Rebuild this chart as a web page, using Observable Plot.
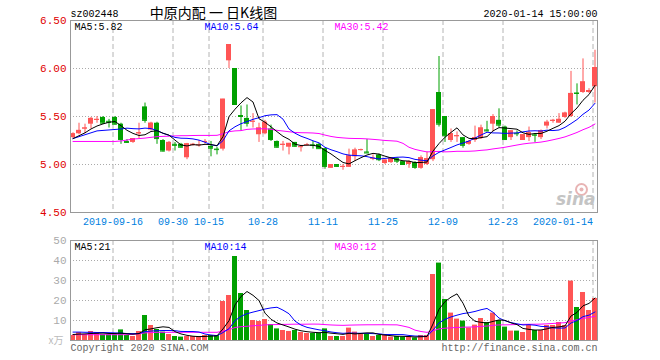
<!DOCTYPE html>
<html><head><meta charset="utf-8">
<script src="https://cdn.jsdelivr.net/npm/d3@7"></script>
<script src="https://cdn.jsdelivr.net/npm/@observablehq/plot@0.6"></script>
<style>
body{margin:0;background:#fff;}
#wrap{position:relative;width:660px;height:360px;overflow:hidden;background:#fff;}
#wrap svg{display:block;}
</style></head><body><div id="wrap"></div>
<script>
// ---- data ----
const stockCode = "sz002448";
const chartTitle = "中原内配 一 日K线图";
const stamp = "2020-01-14 15:00:00";
const opens = [5.28,5.32,5.37,5.42,5.46,5.49,5.45,5.49,5.42,5.24, 5.23,5.32,5.60,5.36,5.43,5.25,5.14,5.21,5.21,5.07, 5.20,5.20,5.23,5.19,5.16,5.16,6.08,6.00,5.51,5.48, 5.445,5.31,5.32,5.37,5.24,5.20,5.18,5.23,5.18,5.20, 5.205,5.21,5.165,4.96,5.00,4.975,4.97,5.08,5.15,5.13, 5.06,5.10,5.01,5.02,5.06,5.03,5.00,5.02,4.96,5.00, 5.05,5.75,5.50,5.25,5.29,5.28,5.21,5.25,5.27,5.36, 5.42,5.46,5.39,5.28,5.325,5.25,5.28,5.31,5.28,5.40, 5.45,5.43,5.49,5.50,5.745,5.75,5.75,5.81];
const highs = [5.33,5.43,5.42,5.49,5.50,5.50,5.47,5.50,5.43,5.26, 5.27,5.43,5.64,5.44,5.44,5.26,5.24,5.23,5.22,5.22, 5.22,5.25,5.26,5.24,5.18,5.68,6.25,6.00,5.61,5.62, 5.53,5.43,5.46,5.41,5.245,5.24,5.22,5.23,5.20,5.22, 5.24,5.22,5.17,5.00,5.00,5.00,5.16,5.17,5.16,5.26, 5.10,5.11,5.05,5.07,5.07,5.03,5.04,5.03,5.09,5.13, 5.57,6.125,5.50,5.37,5.34,5.28,5.25,5.40,5.41,5.45, 5.52,5.58,5.40,5.35,5.35,5.31,5.39,5.32,5.36,5.46, 5.47,5.53,5.545,5.97,5.84,6.10,5.79,6.19];
const lows = [5.27,5.31,5.32,5.37,5.43,5.42,5.38,5.41,5.21,5.22, 5.22,5.27,5.43,5.35,5.21,5.13,5.13,5.14,5.17,5.05, 5.19,5.18,5.21,5.08,5.10,5.14,6.00,5.62,5.35,5.39, 5.38,5.23,5.31,5.24,5.17,5.14,5.10,5.18,5.13,5.19, 5.16,5.16,4.95,4.96,4.97,4.94,4.97,5.03,5.14,5.12, 5.04,5.03,5.00,5.01,5.01,4.99,4.96,4.95,4.95,4.99, 5.03,5.39,5.23,5.23,5.23,5.17,5.20,5.23,5.26,5.34, 5.34,5.38,5.25,5.25,5.29,5.25,5.24,5.23,5.26,5.37, 5.43,5.43,5.48,5.49,5.62,5.74,5.74,5.64];
const closes = [5.32,5.355,5.38,5.48,5.47,5.43,5.44,5.42,5.26,5.23, 5.27,5.33,5.46,5.43,5.27,5.14,5.23,5.20,5.18,5.215, 5.21,5.205,5.24,5.17,5.155,5.68,6.25,5.625,5.50,5.43, 5.45,5.38,5.44,5.26,5.18,5.21,5.22,5.19,5.185,5.205, 5.20,5.165,4.98,5.00,4.98,4.98,5.09,5.15,5.155,5.12, 5.065,5.05,5.045,5.065,5.035,5.00,5.03,4.97,5.07,5.06, 5.57,5.42,5.30,5.32,5.30,5.20,5.24,5.28,5.38,5.35, 5.50,5.41,5.26,5.35,5.32,5.31,5.33,5.305,5.35,5.44, 5.46,5.47,5.535,5.74,5.74,5.86,5.77,6.01];
const volumes = [2.5,4,3,4.5,4,3,3,3,5.3,2.5, 2,4.5,12.5,7.5,5.5,4.2,3,2,1.7,2, 2,2,2.5,2.5,2.5,19.5,22.5,42,23.5,15, 10,9.5,10.5,8,5.8,5,4.5,5,4,3.5, 3.5,3.5,5.8,2,2,2,6.2,4.2,3.3,3.3, 2,2.5,2.5,1.7,2,1.7,2,1.3,2.5,2.5, 33,38.7,20.5,13.7,10.7,9.7,6.3,7.7,11,9, 13.7,10,6.7,4.7,4.7,4,7.7,5,5,7.5, 7.5,9,7.5,29.7,16.5,24,15,21];
// moving-average values at the left edge (window starts before the visible data)
const ma5Lead = [5.27,5.30,5.33,5.37];
const ma10Lead = [5.27,5.29,5.31,5.33,5.35,5.355,5.36,5.365,5.37];
const ma30Lead = [5.24,5.24,5.24,5.24,5.24,5.24,5.24,5.24,5.245,5.255, 5.265,5.27,5.275,5.283,5.29,5.293,5.295,5.298,5.30,5.30, 5.302,5.303,5.303,5.303,5.304,5.32,5.342,5.35,5.353];
const vma5Lead = [3.0,3.2,3.3,3.5];
const vma10Lead = [4.2,4.2,4.1,4.1,4.0,4.0,3.9,3.8,3.7];
const vma30Lead = [2.9,2.9,2.9,2.9,2.9,2.9,2.9,2.9,2.9,2.9, 3.1,3.4,3.8,4.0,4.1,4.1,4.1,4.1,4.1,4.1, 4.1,4.1,4.1,4.1,4.1,4.7,5.4,6.5,6.9];
const tickIndex = [7,17,23,32,42,52,62,72,87];
const tickLabels = ["2019-09-16","09-30","10-15","10-28","11-11","11-25","12-09","12-23","2020-01-14"];
const priceTicks = [4.5,5,5.5,6,6.5];
const priceGrid = [5,5.5,6];
const volTicks = [10,20,30,40,50];
const volGrid = [10,20,30,40];

// ---- build ----
const RED = "#ff5555", GREEN = "#00a000", MA5C = "#000000", MA10C = "#0000ff", MA30C = "#ff00ff";
const FONT = "'Liberation Mono','DejaVu Sans Mono',monospace";
const N = closes.length;
const half = 2.5/6, gridOff = 2/6;
function movingAvg(vals, n, lead) {
  return vals.map((_, i) => i < n - 1 ? lead[i] : d3.mean(vals.slice(i - n + 1, i + 1)));
}
const ma5 = movingAvg(closes, 5, ma5Lead), ma10 = movingAvg(closes, 10, ma10Lead), ma30 = movingAvg(closes, 30, ma30Lead);
const vma5 = movingAvg(volumes, 5, vma5Lead), vma10 = movingAvg(volumes, 10, vma10Lead), vma30 = movingAvg(volumes, 30, vma30Lead);
const rows = d3.range(N).map(i => ({
  i, o: opens[i], h: highs[i], l: lows[i], c: closes[i], v: volumes[i],
  col: closes[i] >= opens[i] ? RED : GREEN,
  m5: ma5[i], m10: ma10[i], m30: ma30[i], v5: vma5[i], v10: vma10[i], v30: vma30[i]
}));
const xScale = {domain: [-half, N - 1 + half], axis: null};
const vGridMarks = Plot.ruleX(tickIndex, {x: d => d - gridOff, stroke: "#b4b4b4", strokeDasharray: "5,3"});
const f2 = d3.format(".2f");

const price = Plot.plot({
  width: 660, height: 230, marginLeft: 70, marginRight: 63, marginTop: 20, marginBottom: 18,
  style: {fontFamily: FONT, fontSize: "10px", background: "#fff", overflow: "visible"},
  x: xScale,
  y: {domain: [4.5, 6.5], axis: null},
  marks: [
    Plot.ruleY(priceGrid, {stroke: "#aaa", strokeDasharray: "1,2"}),
    vGridMarks,
    Plot.dot([0], {frameAnchor: "bottom-right", dx: -16, dy: -23, r: 5.5, stroke: "#e8b4b4", strokeWidth: 2, fill: "none"}),
    Plot.dot([0], {frameAnchor: "bottom-right", dx: -16, dy: -23, r: 2, fill: "#e8b4b4"}),
    Plot.text(["sina"], {frameAnchor: "bottom-right", dx: -2, dy: -13, lineAnchor: "middle", textAnchor: "end", fill: "#c4c4c4", fontSize: 17, fontWeight: "bold", fontStyle: "italic", fontFamily: "'DejaVu Sans',sans-serif"}),
    Plot.ruleX(rows, {x: "i", y1: "l", y2: "h", stroke: "col"}),
    Plot.rect(rows, {x1: d => d.i - half, x2: d => d.i + half, y1: "o", y2: "c", fill: "col"}),
    Plot.ruleY(rows, {x1: d => d.i - half, x2: d => d.i + half, y: "c", stroke: "col"}),
    Plot.line(rows, {x: "i", y: "m30", stroke: MA30C, strokeWidth: 1}),
    Plot.line(rows, {x: "i", y: "m10", stroke: MA10C, strokeWidth: 1}),
    Plot.line(rows, {x: "i", y: "m5", stroke: MA5C, strokeWidth: 1}),
    Plot.frame({stroke: "#999"}),
    Plot.text(priceTicks, {y: d => d, frameAnchor: "left", dx: -4, textAnchor: "end", text: d => f2(d), fill: "#e00000", fontSize: 11}),
    Plot.text(tickIndex.slice(0, -1), {x: d => d - gridOff, frameAnchor: "bottom", dy: 9, lineAnchor: "middle", text: (d, k) => tickLabels[k], fill: "#0080e0"}),
    Plot.text(tickIndex.slice(-1), {x: d => d - gridOff, frameAnchor: "bottom", dy: 9, lineAnchor: "middle", textAnchor: "end", text: () => tickLabels[tickLabels.length - 1], fill: "#0080e0"}),
    Plot.text([`MA5:${f2(ma5[N-1])}`], {frameAnchor: "top-left", dx: 4, dy: 6, lineAnchor: "middle", textAnchor: "start", fill: MA5C}),
    Plot.text([`MA10:${f2(ma10[N-1])}`], {frameAnchor: "top-left", dx: 134, dy: 6, lineAnchor: "middle", textAnchor: "start", fill: MA10C}),
    Plot.text([`MA30:${f2(ma30[N-1])}`], {frameAnchor: "top-left", dx: 264, dy: 6, lineAnchor: "middle", textAnchor: "start", fill: MA30C}),
    Plot.text([stockCode], {frameAnchor: "top-left", dy: -7, lineAnchor: "middle", textAnchor: "start", fill: "#000"}),
    Plot.text([chartTitle], {frameAnchor: "top-left", dx: 143, dy: -7, lineAnchor: "middle", textAnchor: "middle", fill: "#000", fontSize: 14, fontFamily: "'Noto Sans CJK SC',sans-serif"}),
    Plot.text([stamp], {frameAnchor: "top-right", dy: -7, lineAnchor: "middle", textAnchor: "end", fill: "#000"})
  ]
});

const fi = d3.format(".0f");
const volume = Plot.plot({
  width: 660, height: 130, marginLeft: 70, marginRight: 63, marginTop: 10, marginBottom: 20,
  style: {fontFamily: FONT, fontSize: "10px", background: "#fff", overflow: "visible"},
  x: xScale,
  y: {domain: [0, 50], axis: null},
  marks: [
    Plot.ruleY(volGrid, {stroke: "#aaa", strokeDasharray: "1,2"}),
    vGridMarks,
    Plot.rect(rows, {x1: d => d.i - half, x2: d => d.i + half, y1: 0, y2: "v", fill: "col"}),
    Plot.line(rows, {x: "i", y: "v30", stroke: MA30C, strokeWidth: 1}),
    Plot.line(rows, {x: "i", y: "v10", stroke: MA10C, strokeWidth: 1}),
    Plot.line(rows, {x: "i", y: "v5", stroke: MA5C, strokeWidth: 1}),
    Plot.frame({stroke: "#999"}),
    Plot.text(volTicks, {y: d => d, frameAnchor: "left", dx: -4, textAnchor: "end", text: d => String(d), fill: "#aaa", fontSize: 11}),
    Plot.text(["x万"], {frameAnchor: "bottom-left", dx: -7, dy: 0, lineAnchor: "middle", textAnchor: "end", fill: "#bbb", fontFamily: "'Noto Sans CJK SC',sans-serif", fontSize: 10}),
    Plot.text([`MA5:${fi(vma5[N-1])}`], {frameAnchor: "top-left", dx: 4, dy: 6, lineAnchor: "middle", textAnchor: "start", fill: MA5C}),
    Plot.text([`MA10:${fi(vma10[N-1])}`], {frameAnchor: "top-left", dx: 134, dy: 6, lineAnchor: "middle", textAnchor: "start", fill: MA10C}),
    Plot.text([`MA30:${fi(vma30[N-1])}`], {frameAnchor: "top-left", dx: 264, dy: 6, lineAnchor: "middle", textAnchor: "start", fill: MA30C}),
    Plot.text(["Copyright 2020 SINA.COM"], {frameAnchor: "bottom-left", dy: 7, lineAnchor: "middle", textAnchor: "start", fill: "#666"}),
    Plot.text(["http://finance.sina.com.cn"], {frameAnchor: "bottom-right", dy: 7, lineAnchor: "middle", textAnchor: "end", fill: "#666"})
  ]
});
const wrap = document.getElementById("wrap");
wrap.appendChild(price);
wrap.appendChild(volume);
</script></body></html>
